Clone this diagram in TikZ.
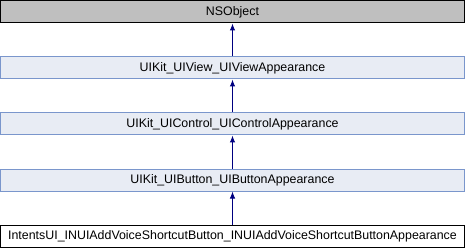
\documentclass[tikz,border=0pt]{standalone}
\usepackage{fontspec}
\setmainfont{Liberation Sans}
\usetikzlibrary{arrows.meta}
\definecolor{basefill}{RGB}{191,191,191}
\definecolor{clsfill}{RGB}{232,236,244}
\definecolor{clsline}{RGB}{122,150,204}
\definecolor{edgecol}{RGB}{0,0,128}
\begin{document}
\begin{tikzpicture}[x=1pt,y=-1pt,
  cls/.style={draw=clsline, fill=clsfill, line width=1pt, minimum width=464pt,
    minimum height=22pt, inner sep=0pt, anchor=north, font=\fontsize{12.4}{14}\selectfont},
  rootcls/.style={cls, draw=black, fill=basefill},
  leafcls/.style={cls, draw=black, fill=white},
  inherit/.style={draw=edgecol, line width=1pt, -{Latex[length=7pt,width=5.5pt]}}]
  \useasboundingbox (0,0) rectangle (465,248);
  \node[rootcls] (nsobj) at (232.5,0.5) {NSObject};
  \node[cls] (uiview) at (232.5,56.5) {UIKit\_UIView\_UIViewAppearance};
  \node[cls] (uicontrol) at (232.5,112.5) {UIKit\_UIControl\_UIControlAppearance};
  \node[cls] (uibutton) at (232.5,168.5) {UIKit\_UIButton\_UIButtonAppearance};
  \node[leafcls] (leaf) at (232.5,224.5) {IntentsUI\_INUIAddVoiceShortcutButton\_INUIAddVoiceShortcutButtonAppearance};
  \draw[inherit] (uiview.north) -- (nsobj.south);
  \draw[inherit] (uicontrol.north) -- (uiview.south);
  \draw[inherit] (uibutton.north) -- (uicontrol.south);
  \draw[inherit] (leaf.north) -- (uibutton.south);
\end{tikzpicture}
\end{document}
